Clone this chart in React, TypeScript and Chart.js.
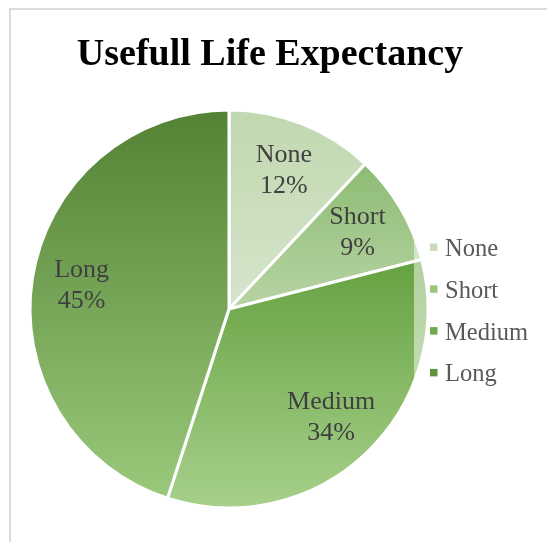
import React, { useEffect, useRef } from "react";
import { Chart, registerables } from "chart.js";

Chart.register(...registerables);

const TITLE = "Usefull Life Expectancy";
const categories = ["None", "Short", "Medium", "Long"];
const values = [12, 9, 34, 45];
const topColors = ["#c0d8b0", "#7eb361", "#3e8612", "#548235"];
const bottomColors = ["#ebf1e6", "#f0f4e7", "#a7d08c", "#9ccb7e"];
const legendColors = ["#c9dcbc", "#9cc483", "#70aa4c", "#5e9140"];

const W = 547;
const H = 542;
const SERIF = "'Liberation Serif', 'Times New Roman', serif";

const framePlugin = {
  id: "frame",
  beforeDraw(chart: any) {
    const ctx = chart.ctx;
    ctx.save();
    ctx.fillStyle = "#ffffff";
    ctx.fillRect(0, 0, chart.width, chart.height);
    ctx.fillStyle = "#dcdcdc";
    ctx.fillRect(9, 8, 2, chart.height - 8);
    ctx.fillRect(9, 8, chart.width - 9, 2);
    ctx.fillStyle = "#000000";
    ctx.font = `bold 38px ${SERIF}`;
    ctx.textAlign = "center";
    ctx.textBaseline = "alphabetic";
    ctx.fillText(TITLE, 270, 65);
    ctx.restore();
  },
};

const labelPlugin = {
  id: "sliceLabels",
  afterDatasetsDraw(chart: any) {
    const ctx = chart.ctx;
    const meta = chart.getDatasetMeta(0);
    const data = chart.data.datasets[0].data as number[];
    const total = data.reduce((a, b) => a + b, 0);
    ctx.save();
    ctx.font = `26px ${SERIF}`;
    ctx.fillStyle = "#404040";
    ctx.textAlign = "center";
    ctx.textBaseline = "middle";
    meta.data.forEach((arc: any, i: number) => {
      const p = arc.getProps(["x", "y", "startAngle", "endAngle", "outerRadius"], true);
      const mid = (p.startAngle + p.endAngle) / 2;
      const r = p.outerRadius * 0.75;
      const cx = p.x + Math.cos(mid) * r;
      const cy = p.y + Math.sin(mid) * r;
      const pct = Math.round((data[i] / total) * 100) + "%";
      ctx.fillText(String(chart.data.labels[i]), cx, cy - 15.5);
      ctx.fillText(pct, cx, cy + 15.5);
    });

    // legend (overlapping the pie, with translucent backdrop)
    ctx.fillStyle = "rgba(255,255,255,0.5)";
    ctx.fillRect(414, 226, W - 414, 172);
    ctx.font = `24.5px ${SERIF}`;
    ctx.textAlign = "left";
    ctx.textBaseline = "alphabetic";
    const baseY = 256;
    const step = 41.8;
    (chart.data.labels as string[]).forEach((lab, i) => {
      const y = baseY + i * step;
      ctx.fillStyle = legendColors[i];
      ctx.fillRect(430, y - 12.5, 7.5, 7.5);
      ctx.fillStyle = "#595959";
      ctx.fillText(lab, 445, y);
    });
    ctx.restore();
  },
};

export default function App() {
  const ref = useRef<HTMLCanvasElement | null>(null);

  useEffect(() => {
    if (!ref.current) return;
    const chart = new Chart(ref.current, {
      type: "pie",
      data: {
        labels: categories,
        datasets: [
          {
            data: values,
            backgroundColor: (c: any) => {
              const area = c.chart.chartArea;
              const i = c.dataIndex ?? 0;
              if (!area) return topColors[i];
              const g = c.chart.ctx.createLinearGradient(0, area.top, 0, area.bottom);
              g.addColorStop(0, topColors[i]);
              g.addColorStop(1, bottomColors[i]);
              return g;
            },
            borderColor: "#ffffff",
            borderWidth: 3,
            hoverOffset: 0,
            offset: 0,
          },
        ],
      },
      options: {
        responsive: false,
        animation: false,
        layout: { padding: { left: 28.5, top: 108.5, right: 117.5, bottom: 32.5 } },
        plugins: {
          legend: { display: false },
          title: { display: false },
          tooltip: { enabled: false },
        },
      },
      plugins: [framePlugin, labelPlugin],
    });
    return () => chart.destroy();
  }, []);

  return (
    <div style={{ position: "fixed", left: 0, top: 0, width: W, height: H, background: "#fff" }}>
      <canvas ref={ref} width={W} height={H} style={{ width: W, height: H, display: "block" }} />
    </div>
  );
}
